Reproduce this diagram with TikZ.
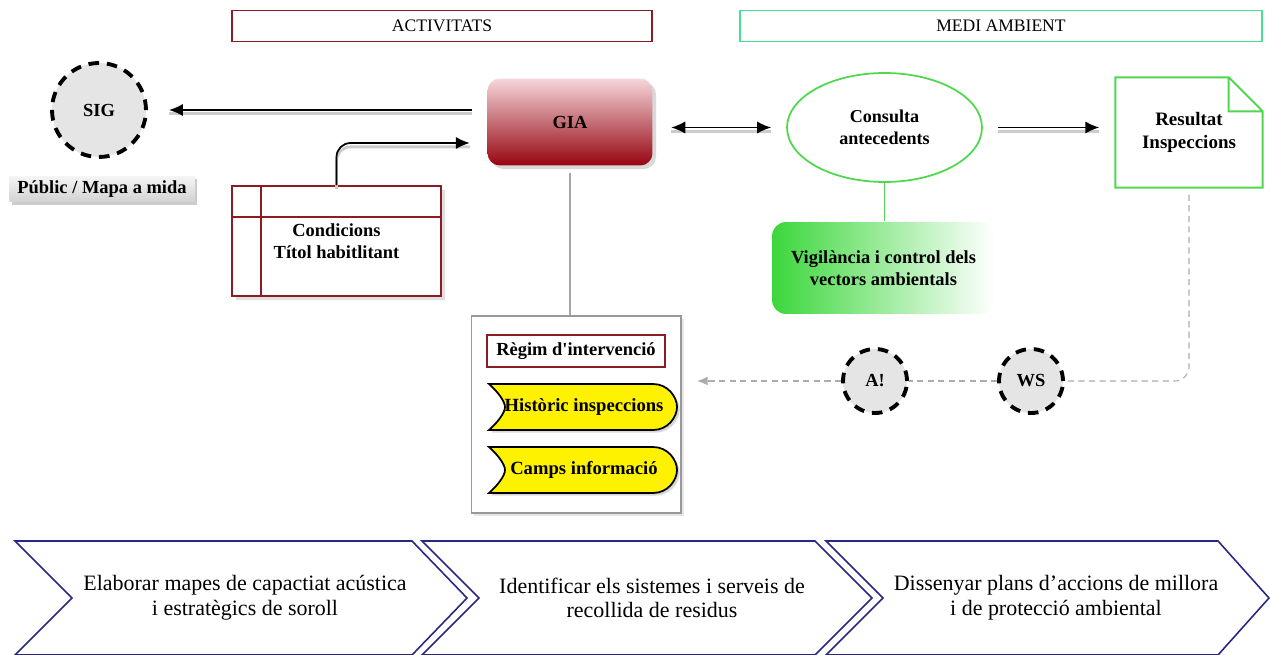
\documentclass[tikz,border=0pt]{standalone}
\usepackage{fontspec}
\setmainfont{Liberation Serif}
\usetikzlibrary{shapes.geometric,shadows,positioning,arrows.meta}

\definecolor{actred}{RGB}{140,28,36}
\definecolor{medgreen}{RGB}{70,225,150}
\definecolor{consgreen}{RGB}{80,215,80}
\definecolor{giatop}{RGB}{245,215,220}
\definecolor{giabot}{RGB}{150,5,15}
\definecolor{viggreen}{RGB}{60,215,60}
\definecolor{chevblue}{RGB}{40,40,130}

\begin{document}
\begin{tikzpicture}[x=0.02cm,y=-0.02cm,>={Latex[length=8pt,width=7pt]},thick,
  hdr/.style={draw,line width=1pt,minimum height=0.62cm,inner sep=0pt,
    font=\fontsize{10}{12}\selectfont},
  dcirc/.style={circle,fill=gray!20,draw=black,line width=2.2pt,
    dash pattern=on 6pt off 4.5pt,minimum size=#1,inner sep=0pt,
    font=\bfseries\fontsize{10.5}{12}\selectfont},
  boldtxt/.style={font=\bfseries\fontsize{10.5}{12.5}\selectfont,align=center,inner sep=0pt},
  shadarrow/.style={->,line width=1pt,
    preaction={-,draw=gray!40,line width=1.6pt,transform canvas={yshift=-2.2pt}}},
  fbline/.style={gray!65,semithick,dash pattern=on 3.5pt off 2.5pt},
  chev/.style={draw=chevblue,line width=0.9pt},
  chevtext/.style={font=\fontsize{12.5}{14}\selectfont,align=center,inner sep=0pt}]

\useasboundingbox (0,0) rectangle (1270,655);

% headers
\node[hdr,draw=actred,minimum width=8.4cm] (act) at (442,26) {ACTIVITATS};
\node[hdr,draw=medgreen,minimum width=10.44cm] (med) at (1001,26) {MEDI AMBIENT};

% SIG
\node[dcirc=1.88cm] (sig) at (99,110) {SIG};
\node[boldtxt,minimum width=3.7cm,minimum height=0.52cm,top color=gray!8,bottom color=gray!35,
  drop shadow={opacity=0.4,shadow xshift=1.5pt,shadow yshift=-1.5pt}] (pub) at (102,189) {Públic / Mapa a mida};

% GIA
\node[boldtxt,rounded corners=7pt,minimum width=3.3cm,minimum height=1.74cm,
  top color=giatop,bottom color=giabot,
  drop shadow={opacity=0.3,shadow xshift=2pt,shadow yshift=-2pt}] (gia) at (570,122) {GIA};
\draw[shadarrow,shorten <=0.3cm,shorten >=0.42cm] (gia.west |- sig.east) -- (sig.east);

% condicions
\node[boldtxt,draw=actred,line width=0.9pt,fill=white,minimum width=4.18cm,minimum height=2.2cm,
  drop shadow={opacity=0.25,shadow xshift=2pt,shadow yshift=-2pt}] (cond) at (336.5,241) {Condicions\\Títol habitlitant};
\draw[actred,line width=0.9pt] ([yshift=-0.64cm]cond.north west) -- ([yshift=-0.64cm]cond.north east)
  ([xshift=0.6cm]cond.north west) -- ([xshift=0.6cm]cond.south west);
\draw[shadarrow,rounded corners=8pt,shorten >=0.34cm] (cond.north) |- ([yshift=-0.42cm]gia.west);

% regim
\node[draw=gray!80,semithick,fill=white,minimum width=4.2cm,minimum height=3.94cm,
  drop shadow={opacity=0.2,shadow xshift=1.5pt,shadow yshift=-1.5pt}] (rbox) at (576,414.5) {};
\draw[gray!70,semithick] ([yshift=-0.14cm]gia.south) -- (gia.south |- rbox.north);
\node[boldtxt,draw=actred,semithick,minimum width=3.56cm,minimum height=0.64cm] (regim) at (576,351) {Règim d\textquotesingle intervenció};
\foreach \ty/\tname/\ttext in {407/hist/{Històric inspeccions},470/camps/{Camps informació}} {
  \draw[fill=yellow,draw=black,line width=1pt,drop shadow={opacity=0.3,shadow xshift=1.5pt,shadow yshift=-1.5pt}]
    (489,\ty-23) -- (653,\ty-23) .. controls (668,\ty-23) and (677,\ty-10) .. (677,\ty)
    .. controls (677,\ty+10) and (668,\ty+23) .. (653,\ty+23) -- (489,\ty+23)
    .. controls (497,\ty+16) and (505,\ty+6) .. (505,\ty)
    .. controls (505,\ty-6) and (497,\ty-16) .. cycle;
  \node[boldtxt,font=\bfseries\fontsize{10.6}{13}\selectfont] (\tname) at (584,\ty) {\ttext};
}

% consulta
\node[ellipse,boldtxt,font=\bfseries\fontsize{10.3}{12.5}\selectfont,draw=consgreen,line width=1pt,
  minimum width=3.9cm,minimum height=2.18cm] (cons) at (884.5,127.5) {Consulta\\antecedents};
\draw[shadarrow,<->,shorten <=0.36cm,shorten >=0.3cm] (gia.east |- cons.west) -- (cons.west);

% resultat
\node[boldtxt,font=\bfseries\fontsize{10.8}{13.5}\selectfont,minimum width=2.92cm,minimum height=2.18cm] (res) at (1189,132.5) {Resultat\\Inspeccions};
\draw[consgreen,line width=1.1pt] (res.north west) -- ([xshift=-0.68cm]res.north east)
  -- ([yshift=-0.68cm]res.north east) -- (res.south east) -- (res.south west) -- cycle
  ([xshift=-0.68cm]res.north east) |- ([yshift=-0.68cm]res.north east);
\draw[shadarrow,shorten <=0.3cm,shorten >=0.32cm] (cons.east) -- (res.west |- cons.east);

% vigilancia
\node[boldtxt,rounded corners=8pt,minimum width=4.46cm,minimum height=1.84cm,
  left color=viggreen,middle color=viggreen!40,right color=white] (vig) at (883.5,268) {Vigilància i control dels\\vectors ambientals};
\draw[consgreen,line width=1pt] (cons.south) -- (cons.south |- vig.north);

% retorn
\node[dcirc=1.28cm] (ws) at (1031,381) {WS};
\node[dcirc=1.28cm] (alrt) at (875,381) {A!};
\coordinate (fbend) at (697,381);
\draw[fbline,rounded corners=8pt,shorten <=0.14cm] (res.south) |- (ws.east);
\draw[fbline] (ws.west) -- (alrt.east);
\draw[fbline,-{Latex[length=6pt,width=5pt]}] (alrt.west) -- (fbend);

% fletxes de baix
\foreach \xl/\xr/\xt/\cname/\ctext in {
  15/412/467/chevA/{Elaborar mapes de capactiat acústica\\i estratègics de soroll},
  422/815/872/chevB/{Identificar els sistemes i serveis de\\recollida de residus},
  826/1218/1269/chevC/{Dissenyar plans d’accions de millora\\i de protecció ambiental}} {
  \draw[chev] (\xl,541) -- (\xr,541) -- (\xt,598) -- (\xr,655) -- (\xl,655) -- (\xl+57,598) -- cycle;
  \node[chevtext] (\cname) at (\xl+230,598) {\ctext};
}

\end{tikzpicture}
\end{document}
